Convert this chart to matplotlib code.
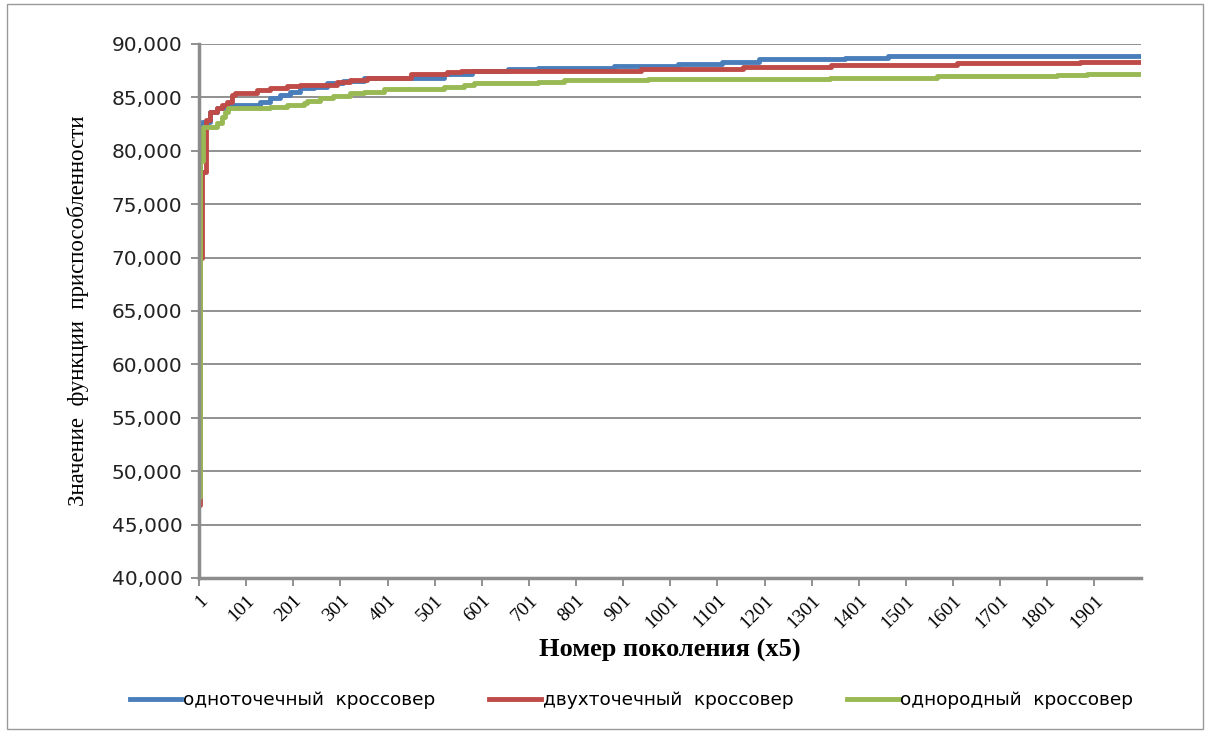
import matplotlib.pyplot as plt
from matplotlib.patches import Rectangle

# generation (x5) where the best fitness changes, and the new value
one_point_gen = [1, 2, 3, 5, 8, 24, 39, 60, 131, 152, 173, 195, 216, 244, 273, 307, 350,
                 520, 580, 656, 720, 882, 1017, 1110, 1190, 1371, 1464, 2000]
one_point_val = [47500, 73000, 79000, 81500, 82700, 83660, 83980, 84290, 84600, 84910, 85220,
                 85520, 85840, 85990, 86300, 86550, 86770, 87170, 87470, 87630, 87790, 87940,
                 88160, 88310, 88560, 88720, 88860, 88860]

two_point_gen = [1, 3, 8, 15, 24, 39, 49, 60, 71, 78, 124, 152, 187, 216, 294, 322, 357, 450,
                 528, 556, 939, 1155, 1343, 1610, 1871, 2000]
two_point_val = [46800, 70000, 78000, 82900, 83660, 83980, 84290, 84600, 85220, 85370, 85680,
                 85900, 86050, 86200, 86450, 86670, 86820, 87150, 87380, 87470, 87630, 87850,
                 88000, 88220, 88310, 88310]

uniform_gen = [1, 2, 4, 10, 39, 49, 56, 63, 152, 187, 223, 230, 258, 286, 322, 350, 393, 520,
               563, 584, 720, 776, 954, 1339, 1567, 1822, 1886, 2000]
uniform_val = [47600, 68600, 79000, 82200, 82580, 83200, 83660, 83980, 84130, 84290, 84440,
               84660, 84910, 85120, 85370, 85520, 85800, 85990, 86150, 86300, 86450, 86610,
               86700, 86820, 86980, 87070, 87230, 87230]

series_names = ["одноточечный  кроссовер", "двухточечный  кроссовер", "однородный  кроссовер"]
colors = ["#4a7ebb", "#be4b48", "#98b954"]

x_ticks = list(range(1, 2000, 100))
y_ticks = list(range(40000, 90001, 5000))

fig = plt.figure(figsize=(12.1, 7.33), dpi=100)
ax = fig.add_axes([0.1645, 0.2115, 0.7785, 0.7285])

ax.step(one_point_gen, one_point_val, where="post", color=colors[0], lw=3.5, label=series_names[0])
ax.step(two_point_gen, two_point_val, where="post", color=colors[1], lw=3.5, label=series_names[1])
ax.step(uniform_gen, uniform_val, where="post", color=colors[2], lw=3.5, label=series_names[2])

ax.set_xlim(1, 2000)
ax.set_ylim(40000, 90000)
ax.set_yticks(y_ticks)
ax.set_yticklabels([f"{v:,}" for v in y_ticks], fontsize=14.5, color="#222222")
ax.set_xticks(x_ticks)
ax.set_xticklabels([str(t) for t in x_ticks], rotation=45, ha="right", va="top",
                   rotation_mode="anchor", fontsize=14, family="Liberation Serif")

ax.grid(axis="y", color="#888888", lw=1.3)
ax.set_axisbelow(True)
for s in ["top", "right"]:
    ax.spines[s].set_visible(False)
for s in ["left", "bottom"]:
    ax.spines[s].set_color("#8c8c8c")
    ax.spines[s].set_linewidth(2.5)
ax.tick_params(axis="both", color="#888888", length=6, width=1.3)
ax.tick_params(axis="y", pad=6)
ax.tick_params(axis="x", pad=4)

ax.set_xlabel("Номер поколения (x5)", family="Liberation Serif", fontweight="bold",
              fontsize=19, labelpad=5)
ax.set_ylabel("Значение  функции  приспособленности", family="Liberation Serif",
              fontsize=16.5, labelpad=16)

fig.legend(loc="center", bbox_to_anchor=(0.522, 0.045), ncol=3, frameon=False,
           fontsize=13.3, handlelength=2.8, handletextpad=0.1, columnspacing=2.9)

fig.patches.append(Rectangle((0.006, 0.006), 0.988, 0.988, transform=fig.transFigure,
                             fill=False, edgecolor="#999999", lw=1))

fig.savefig("out.png", dpi=100)
